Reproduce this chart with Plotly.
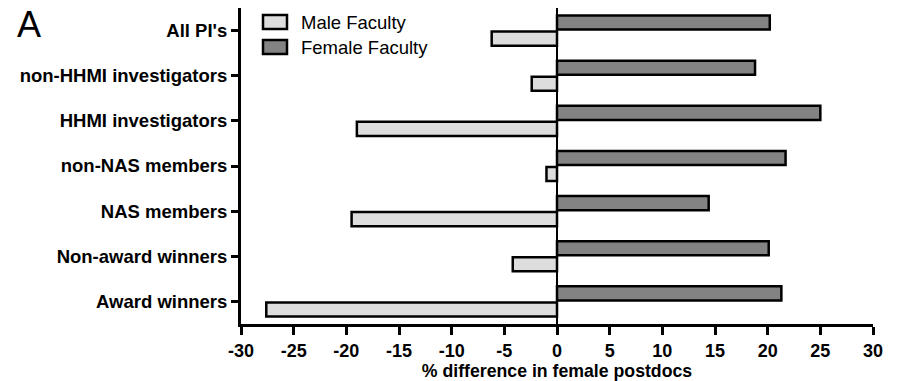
import plotly.graph_objects as go

categories = ["All PI's", "non-HHMI investigators", "HHMI investigators",
              "non-NAS members", "NAS members", "Non-award winners", "Award winners"]
male_values = [-6.2, -2.4, -19.0, -1.0, -19.5, -4.2, -27.6]
female_values = [20.2, 18.8, 25.0, 21.7, 14.4, 20.1, 21.3]
x_ticks = [-30, -25, -20, -15, -10, -5, 0, 5, 10, 15, 20, 25, 30]
series_names = ["Male Faculty", "Female Faculty"]
series_colors = ["#dddddd", "#838383"]

fig = go.Figure()
for name, color, vals in zip(series_names, series_colors, [male_values, female_values]):
    fig.add_trace(go.Bar(
        y=categories, x=vals, orientation="h", name=name, showlegend=False,
        marker=dict(color=color, line=dict(color="black", width=2.5)),
    ))

W, H = 901, 381
L, R, T, B = 241, 28, 8, 57
PW, PH = W - L - R, H - T - B

fig.update_layout(
    width=W, height=H,
    margin=dict(l=L, r=R, t=T, b=B, pad=0, autoexpand=False),
    paper_bgcolor="white", plot_bgcolor="white",
    barmode="group", bargap=0.29, bargroupgap=0.12,
    font=dict(family="Liberation Sans, Arial, sans-serif", color="black"),
    showlegend=False,
)
fig.update_xaxes(
    range=[-30, 30], tickvals=x_ticks, ticktext=[str(v) for v in x_ticks],
    showline=True, linecolor="black", linewidth=3, mirror=False,
    ticks="outside", ticklen=8, tickwidth=3, tickcolor="black",
    ticklabelstandoff=0, automargin=False,
    showgrid=False, zeroline=True, zerolinecolor="black", zerolinewidth=2,
    tickfont=dict(size=18, weight="bold"),
    title=dict(text="<b>% difference in female postdocs</b>", standoff=6,
               font=dict(size=17.7)),
)
fig.update_yaxes(
    categoryorder="array", categoryarray=categories[::-1],
    showline=True, linecolor="black", linewidth=3,
    ticks="outside", ticklen=7, tickwidth=3, tickcolor="black",
    ticklabelstandoff=0, automargin=False,
    showgrid=False, zeroline=False,
    tickfont=dict(size=18.5, weight="bold"),
)

# Custom legend (larger swatches as in the reference)
sw_x0, sw_x1 = 22 / PW, 46 / PW
for i, (name, color) in enumerate(zip(series_names, series_colors)):
    top = 7 + 25 * i
    fig.add_shape(type="rect", xref="paper", yref="paper",
                  x0=sw_x0, x1=sw_x1, y0=1 - (top + 14) / PH, y1=1 - top / PH,
                  fillcolor=color, line=dict(color="black", width=2.5))
    fig.add_annotation(text=name, xref="paper", yref="paper",
                       x=58 / PW, y=1 - (top + 7) / PH, xanchor="left", yanchor="middle",
                       showarrow=False, font=dict(size=18.5, color="black"))

fig.add_annotation(text="A", xref="paper", yref="paper", x=(15 - L) / PW, y=1 - 16 / PH,
                   xanchor="left", yanchor="middle", showarrow=False,
                   font=dict(size=36, color="black"))

fig.write_html("out.html", config={"displayModeBar": False},
               post_script="document.body.style.margin='0px';")
